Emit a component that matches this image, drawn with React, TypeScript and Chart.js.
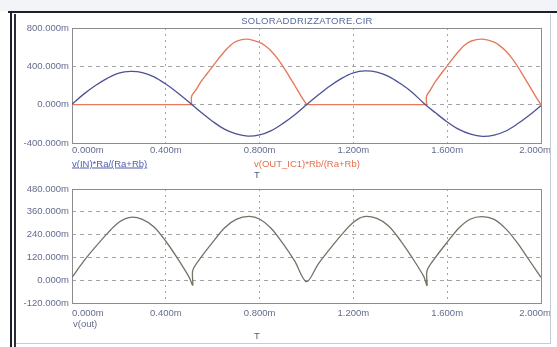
import React, { useEffect, useRef } from "react";
import { Chart, registerables } from "chart.js";

Chart.register(...registerables);

// ---------- data (time in ms, values in mV) ----------
const xTickValues = [0, 0.4, 0.8, 1.2, 1.6, 2.0];
const xTickLabels = ["0.000m", "0.400m", "0.800m", "1.200m", "1.600m", "2.000m"];

const topYTicks = [-400, 0, 400, 800];
const topYLabels = ["-400.000m", "0.000m", "400.000m", "800.000m"];

const bottomYTicks = [-120, 0, 120, 240, 360, 480];
const bottomYLabels = ["-120.000m", "0.000m", "120.000m", "240.000m", "360.000m", "480.000m"];

// v(IN)*Ra/(Ra+Rb)
const inTime = [
  0, 0.05, 0.1, 0.15, 0.2, 0.25, 0.3, 0.35, 0.4, 0.45, 0.5,
  0.55, 0.6, 0.65, 0.7, 0.75, 0.8, 0.85, 0.9, 0.95, 1.0,
  1.05, 1.1, 1.15, 1.2, 1.25, 1.3, 1.35, 1.4, 1.45, 1.5,
  1.55, 1.6, 1.65, 1.7, 1.75, 1.8, 1.85, 1.9, 1.95, 2.0,
];
const inValues = [
  5, 110, 200, 275, 330, 347, 335, 290, 215, 125, 25,
  -80, -175, -255, -305, -328, -315, -270, -195, -105, 0,
  100, 195, 275, 332, 352, 340, 295, 220, 130, 15,
  -85, -180, -258, -308, -330, -318, -275, -200, -110, -10,
];

// v(OUT_IC1)*Rb/(Ra+Rb): flat parts (null = gap) and the two humps
const outIcFlatTime = [0, 0.51, 0.75, 1.0, 1.512];
const outIcFlatValues = [0, 0, null, 0, 0];

const outIcHump1Time = [
  0.51, 0.51, 0.53, 0.55, 0.575, 0.6, 0.625, 0.65, 0.675, 0.7, 0.745,
  0.8, 0.825, 0.85, 0.875, 0.9, 0.925, 0.95, 0.975, 1.0,
];
const outIcHump1Values = [
  0, 87, 160, 240, 320, 400, 480, 555, 618, 660, 684,
  650, 612, 558, 485, 398, 300, 200, 98, 0,
];

const outIcHump2Time = [
  1.512, 1.512, 1.53, 1.55, 1.575, 1.6, 1.625, 1.65, 1.675, 1.7, 1.747,
  1.8, 1.825, 1.85, 1.875, 1.9, 1.925, 1.95, 1.975, 2.0,
];
const outIcHump2Values = [
  0, 87, 160, 242, 325, 405, 485, 560, 622, 662, 684,
  652, 614, 560, 488, 400, 300, 198, 95, 0,
];

// v(out)
const outTime = [
  0, 0.05, 0.1, 0.15, 0.2, 0.25, 0.3, 0.35, 0.4, 0.45, 0.5,
  0.515, 0.515, 0.55, 0.6, 0.65, 0.7, 0.755, 0.8, 0.85, 0.9, 0.95, 1.0,
  1.05, 1.1, 1.15, 1.2, 1.245, 1.3, 1.35, 1.4, 1.45, 1.5,
  1.514, 1.514, 1.55, 1.6, 1.65, 1.7, 1.748, 1.8, 1.85, 1.9, 1.95, 2.0,
];
const outValues = [
  15, 100, 175, 245, 305, 331, 320, 280, 205, 115, 15,
  -26, 52, 120, 200, 275, 320, 336, 322, 272, 192, 100, -8,
  85, 165, 240, 305, 335, 325, 285, 210, 120, 20,
  -28, 50, 120, 200, 275, 322, 335, 320, 270, 195, 105, 15,
];

// ---------- styles ----------
const FONT = '"Liberation Sans", Arial, sans-serif';
const LABEL_COLOR = "#646c8e";
const GRID_COLOR = "#a4a4a8";
const BOX_COLOR = "#8c8c90";
const BLUE = "#4d5196";
const RED = "#e8795c";
const OUT_COLOR = "#6f7464";

const pts = (xs: number[], ys: (number | null)[]) => xs.map((x, i) => ({ x, y: ys[i] }));

function framePlugin(labelOffset: number) {
  return {
    id: "frameAndXLabels",
    beforeDatasetsDraw(chart: any) {
      const { ctx, chartArea } = chart;
      ctx.save();
      ctx.strokeStyle = BOX_COLOR;
      ctx.lineWidth = 1;
      ctx.strokeRect(
        Math.round(chartArea.left) + 0.5,
        Math.round(chartArea.top) + 0.5,
        Math.round(chartArea.right - chartArea.left),
        Math.round(chartArea.bottom - chartArea.top)
      );
      ctx.restore();
    },
    afterDraw(chart: any) {
      const { ctx, chartArea } = chart;
      const xs = chart.scales.x;
      ctx.save();
      ctx.font = `9.5px ${FONT}`;
      ctx.fillStyle = LABEL_COLOR;
      ctx.textBaseline = "middle";
      const last = xTickValues.length - 1;
      xTickValues.forEach((v, i) => {
        const px = xs.getPixelForValue(v);
        let x = px;
        if (i === 0) ctx.textAlign = "left";
        else if (i === last) {
          ctx.textAlign = "right";
          x = px + 10;
        } else ctx.textAlign = "center";
        ctx.fillText(xTickLabels[i], x, chartArea.bottom + labelOffset);
      });
      ctx.restore();
    },
  };
}

function makeOptions(
  yMin: number,
  yMax: number,
  yTicks: number[],
  yLabels: string[],
  padTop: number,
  xHeight: number
): any {
  const gridColor = (n: number) => (c: any) =>
    c.index === 0 || c.index === n - 1 ? "rgba(0,0,0,0)" : GRID_COLOR;
  return {
    responsive: false,
    animation: false,
    devicePixelRatio: 1,
    spanGaps: false,
    layout: { padding: { top: padTop, right: 16, left: 0, bottom: 0 } },
    plugins: { legend: { display: false }, tooltip: { enabled: false }, title: { display: false } },
    elements: { point: { radius: 0 } },
    scales: {
      x: {
        type: "linear",
        min: 0,
        max: 2,
        afterBuildTicks: (s: any) => {
          s.ticks = xTickValues.map((v) => ({ value: v }));
        },
        afterFit: (s: any) => {
          s.height = xHeight;
        },
        ticks: { display: false },
        grid: { color: gridColor(xTickValues.length), drawTicks: false, lineWidth: 1 },
        border: { display: false, dash: [2, 4] },
      },
      y: {
        type: "linear",
        min: yMin,
        max: yMax,
        afterBuildTicks: (s: any) => {
          s.ticks = yTicks.map((v) => ({ value: v }));
        },
        afterFit: (s: any) => {
          s.width = 72;
        },
        ticks: {
          padding: 3,
          color: LABEL_COLOR,
          font: { family: FONT, size: 9.5 },
          callback: (_v: any, i: number) => yLabels[i],
        },
        grid: { color: gridColor(yTicks.length), drawTicks: false, lineWidth: 1 },
        border: { display: false, dash: [4, 4] },
      },
    },
  };
}

function Label(props: {
  x: number;
  y: number;
  text: string;
  color: string;
  align?: "left" | "center";
  underline?: boolean;
  spacing?: number;
}) {
  const { x, y, text, color, align = "left", underline, spacing = 0 } = props;
  return (
    <div
      style={{
        position: "absolute",
        left: x,
        top: y,
        transform: align === "center" ? "translate(-50%, -50%)" : "translate(0, -50%)",
        font: `9.5px ${FONT}`,
        lineHeight: "11px",
        color,
        whiteSpace: "nowrap",
        textDecoration: underline ? "underline" : "none",
        letterSpacing: spacing,
      }}
    >
      {text}
    </div>
  );
}

export default function App() {
  const topRef = useRef<HTMLCanvasElement | null>(null);
  const bottomRef = useRef<HTMLCanvasElement | null>(null);

  useEffect(() => {
    const top = new Chart(topRef.current as HTMLCanvasElement, {
      type: "line",
      data: {
        datasets: [
          {
            data: pts(inTime, inValues),
            borderColor: BLUE,
            borderWidth: 1.3,
            tension: 0.35,
            fill: false,
          },
          {
            data: pts(outIcFlatTime, outIcFlatValues),
            borderColor: RED,
            borderWidth: 1.4,
            tension: 0,
            fill: false,
          },
          {
            data: pts(outIcHump1Time, outIcHump1Values),
            borderColor: RED,
            borderWidth: 1.4,
            tension: 0.3,
            fill: false,
          },
          {
            data: pts(outIcHump2Time, outIcHump2Values),
            borderColor: RED,
            borderWidth: 1.4,
            tension: 0.3,
            fill: false,
          },
        ],
      },
      options: makeOptions(-400, 800, topYTicks, topYLabels, 28, 27),
      plugins: [framePlugin(7)],
    } as any);

    const bottom = new Chart(bottomRef.current as HTMLCanvasElement, {
      type: "line",
      data: {
        datasets: [
          {
            data: pts(outTime, outValues),
            borderColor: OUT_COLOR,
            borderWidth: 1.3,
            tension: 0.3,
            fill: false,
          },
        ],
      },
      options: makeOptions(-120, 480, bottomYTicks, bottomYLabels, 19, 44),
      plugins: [framePlugin(10)],
    } as any);

    return () => {
      top.destroy();
      bottom.destroy();
    };
  }, []);

  return (
    <div
      style={{
        position: "fixed",
        left: 0,
        top: 0,
        width: 557,
        height: 347,
        background: "#ffffff",
        overflow: "hidden",
      }}
    >
      <div style={{ position: "absolute", left: 0, top: 0, width: 557, height: 11, background: "#f3f4f7" }} />
      <canvas
        ref={topRef}
        width={557}
        height={170}
        style={{ position: "absolute", left: 0, top: 0, width: 557, height: 170 }}
      />
      <canvas
        ref={bottomRef}
        width={557}
        height={177}
        style={{ position: "absolute", left: 0, top: 170, width: 557, height: 177 }}
      />
      {/* scanned window frame */}
      <div style={{ position: "absolute", left: 8, top: 11, width: 549, height: 2, background: "#1e1f2c" }} />
      <div style={{ position: "absolute", left: 10, top: 11, width: 2, height: 336, background: "#1e1f2c" }} />
      <div style={{ position: "absolute", left: 14, top: 14, width: 2, height: 333, background: "#2c2d3a" }} />
      <div style={{ position: "absolute", left: 550, top: 14, width: 1, height: 329, background: "#c6cad3" }} />
      <div style={{ position: "absolute", left: 16, top: 343, width: 535, height: 1, background: "#c4ccd8" }} />

      <Label x={307} y={20} text="SOLORADDRIZZATORE.CIR" color="#55699e" align="center" spacing={0.3} />
      <Label x={72} y={163} text="v(IN)*Ra/(Ra+Rb)" color="#4f5fae" underline />
      <Label x={254} y={163} text="v(OUT_IC1)*Rb/(Ra+Rb)" color="#e0704f" />
      <Label x={257} y={174} text="T" color="#555a70" align="center" />
      <Label x={73} y={323} text="v(out)" color="#646c8e" />
      <Label x={257} y={335} text="T" color="#555a70" align="center" />
    </div>
  );
}
